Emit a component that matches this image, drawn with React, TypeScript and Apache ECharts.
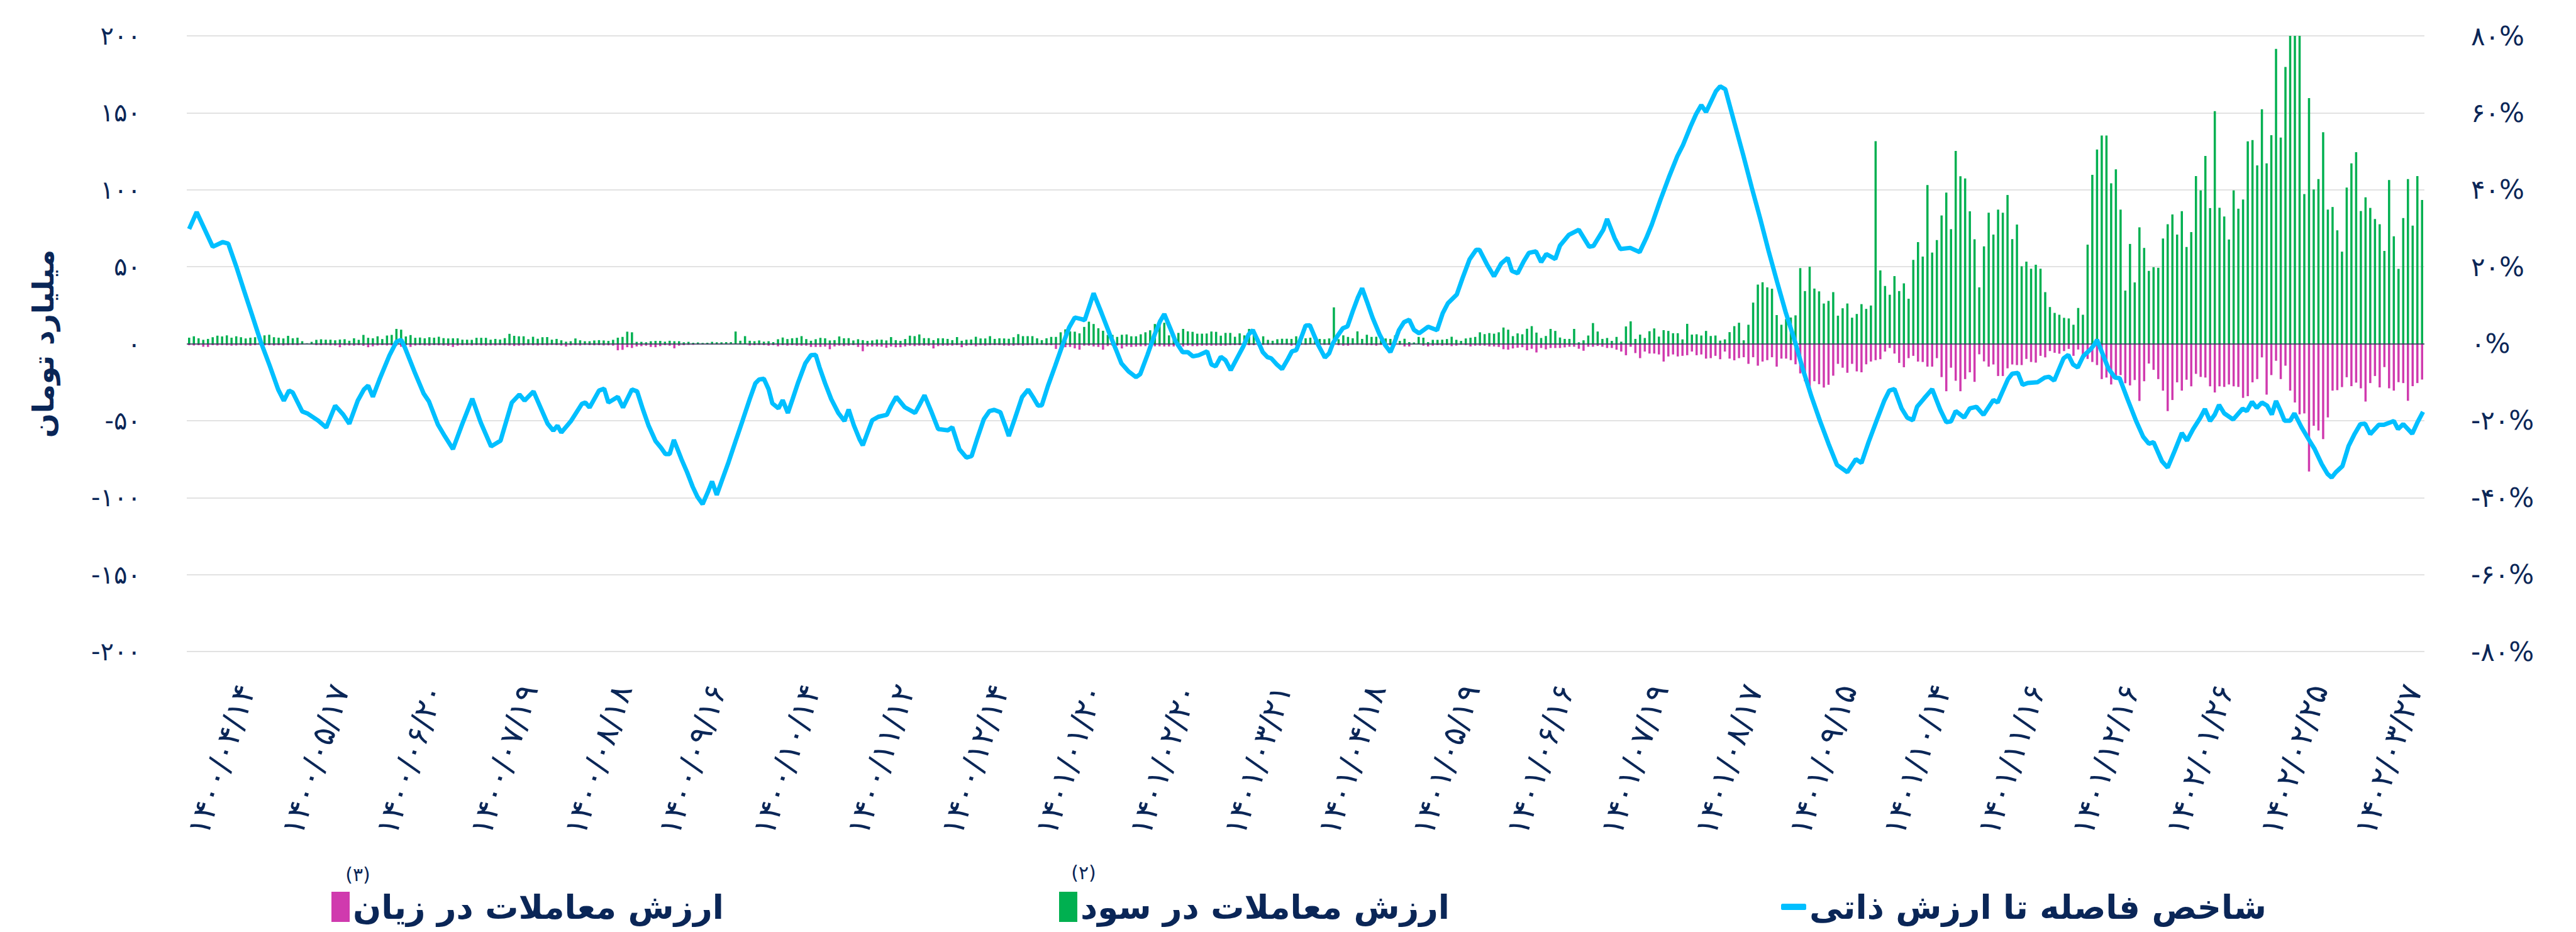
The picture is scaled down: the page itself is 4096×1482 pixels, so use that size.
import { useEffect, useRef } from 'react';
import * as echarts from 'echarts';

// x-axis tick labels (every 20th trading day, starting at day 12)
const dateLabels = [
  '۱۴۰۰/۰۴/۱۴', '۱۴۰۰/۰۵/۱۷', '۱۴۰۰/۰۶/۲۰', '۱۴۰۰/۰۷/۱۹', '۱۴۰۰/۰۸/۱۸', '۱۴۰۰/۰۹/۱۶',
  '۱۴۰۰/۱۰/۱۴', '۱۴۰۰/۱۱/۱۲', '۱۴۰۰/۱۲/۱۴', '۱۴۰۱/۰۱/۲۰', '۱۴۰۱/۰۲/۲۰', '۱۴۰۱/۰۳/۲۱',
  '۱۴۰۱/۰۴/۱۸', '۱۴۰۱/۰۵/۱۹', '۱۴۰۱/۰۶/۱۶', '۱۴۰۱/۰۷/۱۹', '۱۴۰۱/۰۸/۱۷', '۱۴۰۱/۰۹/۱۵',
  '۱۴۰۱/۱۰/۱۴', '۱۴۰۱/۱۱/۱۶', '۱۴۰۱/۱۲/۱۶', '۱۴۰۲/۰۱/۲۶', '۱۴۰۲/۰۲/۲۵', '۱۴۰۲/۰۳/۲۷',
];
const firstLabelIndex = 12;
const labelStep = 20;

// value of trades in profit (billion toman), one per trading day
const profitValues = [
  3.9, 4.8, 3.5, 2.5, 3.1, 4.2, 5.2, 4.7, 5.4, 3.9, 4.8, 4.2, 3.4, 3.9, 4.2, 4.5, 5.4, 5.8, 4.2, 3.9,
  3.4, 5.1, 3.5, 3.9, 1.6, 0.3, 1.2, 2.5, 2.9, 2.6, 2.6, 2.2, 2.7, 2.9, 1.9, 3.5, 2.5, 5.7, 3.8, 3.5,
  4.8, 3.0, 5.3, 5.7, 9.6, 9.1, 4.7, 5.6, 3.8, 4.0, 3.5, 4.2, 3.9, 4.5, 3.6, 3.4, 3.5, 3.5, 2.6, 2.6,
  2.5, 3.8, 3.8, 3.8, 2.6, 3.1, 2.7, 3.6, 6.4, 5.1, 4.8, 4.8, 2.9, 4.5, 3.2, 4.2, 4.3, 2.6, 3.1, 2.2,
  1.3, 1.6, 3.4, 2.2, 1.6, 1.6, 2.1, 2.3, 2.1, 1.8, 2.5, 3.9, 4.4, 7.8, 7.4,
  1.2, 1.2, 0.9, 1.6, 1.8, 1.8, 1.3, 1.9, 1.6, 1.6, 0.9, 1.2, 0.6, 0.8, 0.5, 0.6, 1.2, 0.9, 0.9, 1.0,
  1.0, 7.9, 1.9, 4.9, 1.9, 1.6, 2.1, 1.3, 1.6, 1.0, 2.9, 4.0, 3.0, 3.5, 3.8, 4.9, 3.0, 1.9, 2.9, 3.8,
  3.5, 2.1, 2.3, 4.7, 3.5, 3.6, 2.1, 2.9, 2.3, 1.8, 2.1, 2.7, 2.6, 2.1, 4.3, 2.3, 1.8, 3.0, 5.2, 4.9,
  6.0, 3.6, 3.6, 2.3, 3.5, 3.5, 3.1, 2.3, 4.3, 1.9, 2.6, 2.7, 4.5, 3.4, 3.4, 4.9, 3.1, 3.5, 3.4, 3.2,
  4.2, 6.2, 4.9, 4.9, 4.9, 3.5, 2.3, 3.5, 4.4, 4.4, 7.4, 9.3, 8.0, 7.8, 6.7,
  10.9, 14.3, 12.8, 10.0, 8.4, 5.7, 5.7, 4.4, 5.8, 6.0, 4.8, 4.8, 6.1, 7.4, 8.7, 12.8, 13.0, 13.6, 5.4, 3.5,
  7.0, 9.6, 8.0, 7.7, 6.5, 6.5, 6.6, 7.9, 7.7, 5.2, 7.0, 7.0, 4.5, 6.7, 5.4, 9.6, 9.3, 2.9, 4.8, 2.5,
  1.9, 2.9, 3.2, 3.2, 3.1, 4.8, 3.5, 3.5, 3.9, 1.8, 3.1, 2.9, 3.4, 23.6, 2.9, 5.4, 4.4, 3.5, 8.0, 3.1,
  5.8, 4.4, 4.5, 2.2, 3.4, 3.1, 5.4, 1.8, 3.2, 1.0, 0.8, 4.4, 3.9, 1.0, 2.5, 2.5, 2.6, 3.0, 4.5, 2.5,
  1.8, 3.4, 3.9, 4.4, 7.4, 6.2, 6.9, 6.5, 7.4, 10.5, 9.1, 4.9, 6.7, 6.1, 9.7,
  11.4, 7.2, 3.7, 5.0, 9.6, 8.3, 4.0, 3.1, 3.1, 9.6, 0.9, 2.2, 5.3, 13.4, 7.9, 3.1, 3.7, 1.8, 4.4, 1.3,
  11.2, 14.5, 3.1, 5.9, 3.7, 8.1, 9.9, 4.6, 8.8, 8.3, 6.8, 6.8, 2.8, 12.9, 5.9, 6.1, 5.3, 8.3, 5.0, 5.3,
  2.0, 2.8, 7.5, 11.4, 13.6, 2.2, 12.3, 26.7, 38.4, 39.9, 36.6, 35.7, 18.6, 12.3, 16.0, 17.0, 18.4, 49.1, 34.2, 50.0,
  35.8, 34.0, 26.1, 27.8, 33.5, 18.2, 23.0, 26.1, 16.9, 19.3, 25.7, 22.6, 24.8, 131.6, 47.6, 37.5, 31.8, 43.9, 34.2, 39.2,
  29.2, 54.4, 66.0, 56.6, 103.1, 59.2, 67.3, 83.3, 98.2, 74.4, 125.2, 108.8, 107.4, 86.0, 67.8,
  36.6, 63.2, 85.1, 70.9, 87.1, 85.1, 96.6, 67.9, 77.4, 50.3, 53.3, 48.7, 51.3, 48.7, 33.5, 23.8, 20.0, 18.8, 16.8, 16.4,
  12.3, 23.2, 18.8, 64.4, 109.7, 126.1, 135.2, 135.2, 104.2, 113.3, 87.1, 34.5, 64.8, 39.8, 75.6, 62.2, 47.3, 49.7, 49.3, 68.3,
  77.6, 84.0, 70.9, 86.1, 62.8, 72.5, 108.9, 99.6, 122.0, 88.1, 151.1, 88.3, 82.6, 67.7, 99.6, 87.7, 93.7, 131.5, 132.3, 115.8,
  152.3, 117.2, 135.4, 191.5, 133.9, 179.8, 215, 225, 210, 97.2, 159.6, 100.2, 106.9, 137.4, 87.1, 88.8, 73.6, 59.8, 101.4, 117.2,
  124.4, 86.2, 95.1, 88.2, 81.0, 77.6, 60.3, 106.3, 69.8, 48.6, 81.6, 106.9, 76.7, 108.9, 93.4,
];

// value of trades in loss (billion toman), one per trading day
const lossValues = [
  -1.0, -1.2, -1.0, -2.0, -2.1, -1.0, -1.2, -1.0, -1.1, -1.3, -1.2, -1.0, -1.2, -1.3, -1.0, -0.8, -1.1, -1.0, -1.2, -1.0,
  -1.2, -1.0, -0.9, -1.0, -0.5, -0.2, -0.4, -1.0, -1.0, -0.9, -1.1, -1.2, -2.3, -1.1, -1.2, -1.3, -1.0, -1.4, -2.3, -1.7,
  -1.2, -1.0, -1.2, -1.1, -1.3, -2.0, -1.1, -2.1, -1.2, -1.0, -1.2, -1.3, -1.0, -1.1, -1.2, -1.4, -2.1, -1.3, -1.1, -1.0,
  -1.2, -1.0, -1.1, -1.3, -1.1, -1.2, -1.0, -1.1, -1.2, -1.5, -1.3, -1.2, -1.0, -1.1, -1.2, -1.0, -1.1, -0.9, -1.0, -1.2,
  -1.8, -1.1, -1.0, -1.2, -0.9, -1.0, -1.1, -1.0, -1.2, -1.1, -1.3, -4.3, -4.0, -2.3, -2.8,
  -1.8, -1.6, -1.3, -2.1, -2.3, -1.6, -1.0, -1.3, -3.0, -1.3, -1.0, -0.8, -0.8, -0.6, -0.6, -0.5, -0.6, -0.5, -0.5, -0.4,
  -0.4, -0.3, -0.5, -0.4, -1.2, -1.0, -0.9, -1.0, -1.3, -1.0, -1.7, -1.0, -1.3, -1.0, -1.3, -1.3, -1.3, -2.1, -2.1, -2.1,
  -1.9, -3.6, -1.8, -1.3, -1.6, -1.3, -1.0, -2.1, -4.9, -1.8, -1.8, -1.8, -1.9, -2.6, -1.8, -2.3, -2.3, -1.8, -1.3, -1.6,
  -1.3, -1.3, -1.3, -3.1, -1.6, -1.3, -1.3, -1.3, -1.0, -2.3, -1.3, -1.0, -1.7, -1.0, -1.3, -1.0, -1.0, -1.0, -1.3, -1.3,
  -1.3, -1.0, -1.3, -1.0, -1.0, -0.8, -0.8, -1.0, -1.0, -3.4, -3.0, -2.3, -2.1, -3.0, -3.9,
  -1.3, -1.3, -1.8, -2.1, -3.9, -1.6, -1.3, -1.3, -3.1, -1.8, -2.1, -1.9, -1.7, -1.6, -1.5, -1.7, -1.7, -1.8, -1.8, -1.8,
  -1.3, -1.8, -1.3, -1.6, -1.6, -1.3, -1.3, -1.3, -1.3, -1.3, -1.3, -1.0, -1.0, -1.0, -1.0, -1.0, -1.0, -1.3, -0.8, -0.8,
  -0.8, -0.8, -0.8, -0.8, -1.3, -1.3, -0.8, -0.8, -0.5, -0.5, -1.0, -0.8, -0.8, -0.5, -1.0, -1.3, -1.3, -0.8, -0.8, -0.8,
  -1.0, -1.0, -1.3, -0.8, -1.3, -1.0, -1.0, -0.8, -1.8, -1.8, -0.3, -0.3, -1.3, -1.8, -1.3, -1.0, -1.3, -1.0, -1.6, -1.3,
  -0.8, -1.0, -1.8, -1.3, -1.3, -1.3, -1.8, -1.8, -2.1, -3.6, -3.9, -3.1, -2.6, -2.3, -4.3,
  -3.3, -5.7, -2.8, -3.7, -2.8, -2.8, -2.8, -2.4, -2.0, -2.0, -3.3, -4.6, -2.0, -2.0, -1.5, -2.0, -2.8, -2.8, -3.9, -5.1,
  -7.5, -2.0, -6.1, -9.4, -5.1, -6.4, -6.4, -7.0, -11.6, -8.3, -7.0, -8.3, -7.9, -7.5, -5.1, -7.5, -7.0, -9.7, -9.4, -7.9,
  -10.1, -5.1, -9.7, -10.8, -9.4, -8.8, -13.1, -8.8, -14.3, -11.6, -10.7, -8.8, -14.9, -9.7, -9.7, -10.7, -13.4, -19.3, -24.4, -31.8,
  -24.4, -26.3, -28.5, -26.7, -20.8, -13.1, -15.6, -18.9, -13.1, -18.0, -18.6, -13.4, -11.6, -10.7, -10.1, -5.1, -2.8, -6.4, -12.5, -15.3,
  -9.4, -7.9, -11.6, -11.9, -14.9, -14.9, -9.4, -21.7, -30.9, -15.6, -24.1, -30.9, -23.0, -18.6, -24.8,
  -6.9, -11.5, -14.9, -13.5, -21.0, -21.0, -16.0, -13.5, -13.9, -13.9, -9.9, -11.9, -12.3, -7.9, -8.9, -4.8, -5.9, -6.5, -4.8, -3.4,
  -7.9, -3.8, -9.9, -9.9, -11.9, -13.9, -23.0, -22.0, -26.5, -21.0, -20.4, -25.7, -27.1, -23.6, -37.2, -24.4, -12.9, -17.0, -23.0, -30.5,
  -43.8, -36.6, -25.1, -30.5, -23.4, -27.7, -19.6, -21.6, -22.0, -27.7, -31.7, -27.7, -28.1, -26.5, -27.7, -28.1, -35.2, -34.1, -25.1, -23.0,
  -8.9, -33.1, -20.4, -11.1, -23.0, -14.3, -30.5, -38.2, -45.9, -45.3, -83.0, -53.3, -56.4, -62.0, -47.9, -30.5, -30.2, -28.2, -21.8, -27.6,
  -25.3, -29.0, -37.6, -25.6, -21.0, -28.4, -15.2, -29.0, -30.5, -25.0, -25.6, -37.1, -27.6, -25.6, -23.3,
];

// distance-to-intrinsic-value index (%), read at its visible vertices: [trading day, percent]
const gapPoints: [number, number][] = [
  [0, 29.8], [1.6, 34.2], [5.0, 25.2], [7.1, 26.4], [8.3, 26.0], [10.1, 19.7], [11.6, 14.0], [13.4, 7.3], [15.2, 0.5],
  [17.1, -5.7], [18.9, -11.9], [20.1, -14.8], [21.2, -12.2], [22.0, -12.7], [24.0, -17.6], [25.2, -18.2], [27.4, -20.0],
  [29.1, -21.8], [31.0, -16.1], [32.7, -18.4], [34.0, -20.8], [35.8, -14.8], [37.1, -11.9], [38.0, -10.9], [39.0, -13.8],
  [40.4, -9.3], [42.5, -3.1], [44.0, 0.5], [45.0, 1.0], [45.8, -1.0], [48.0, -7.8], [49.8, -13.0], [50.9, -15.0],
  [52.8, -21.0], [54.3, -24.1], [56.0, -27.4], [58.0, -20.8], [60.1, -14.3], [61.9, -20.5], [64.1, -26.7], [66.1, -25.2],
  [68.5, -15.3], [70.1, -13.2], [71.2, -14.8], [73.1, -12.4], [74.6, -16.6], [76.1, -20.8], [77.3, -22.6], [78.2, -21.3],
  [79.0, -23.1], [81.0, -20.2], [83.4, -15.6], [84.1, -15.3], [85.0, -16.6], [87.0, -12.2], [88.1, -11.7], [89.0, -15.3],
  [91.0, -13.8], [92.1, -16.6], [94.0, -11.9],
  [95.1, -12.4], [96.3, -17.0], [97.5, -21.2], [99.0, -25.3], [100.2, -27.1], [101.1, -28.7], [102.0, -28.7], [102.9, -25.0],
  [104.5, -30.0], [105.7, -33.4], [106.9, -37.2], [107.9, -39.8], [109.0, -41.7], [110.1, -38.6], [111.0, -35.8],
  [112.0, -39.3], [113.2, -35.2], [114.5, -30.8], [116.0, -25.3], [117.5, -19.9], [119.0, -14.4], [120.2, -10.3],
  [121.0, -9.3], [122.0, -9.1], [123.0, -11.8], [123.8, -15.5], [125.1, -16.8], [126.0, -14.7], [127.1, -18.0],
  [128.1, -14.4], [129.3, -10.0], [130.8, -5.1], [132.0, -3.0], [133.0, -2.9], [133.8, -6.1], [135.0, -10.3],
  [136.3, -14.4], [137.8, -18.0], [139.1, -20.1], [140.0, -17.1], [141.1, -21.2], [142.3, -24.8], [143.0, -26.4],
  [143.8, -23.8], [145.0, -19.9], [146.3, -19.0], [148.1, -18.5], [149.0, -16.2], [150.1, -13.8], [151.9, -16.5],
  [154.1, -18.0], [155.0, -16.0], [156.1, -13.4], [157.5, -17.5], [159.0, -22.2], [161.1, -22.5], [162.0, -21.7],
  [163.5, -27.4], [165.0, -29.6], [166.1, -29.2], [167.2, -25.0], [168.7, -19.6], [169.9, -17.5], [170.9, -17.2],
  [172.2, -17.8], [173.2, -21.2], [174.0, -24.0], [175.3, -19.4], [176.8, -13.9], [178.1, -11.9], [179.3, -14.2],
  [180.2, -16.1], [181.0, -16.0], [182.3, -11.0], [183.8, -5.9], [185.3, -0.7], [186.8, 4.2], [188.0, 6.8], [189.4, 6.4],
  [190.1, 6.1], [192.0, 13.1], [193.7, 7.9], [195.5, 2.2], [196.7, -1.4], [197.9, -5.1], [199.4, -7.2], [201.0, -8.7],
  [201.9, -7.9], [203.4, -3.0], [204.9, 2.2], [206.1, 5.8], [207.0, 7.7], [208.2, 4.2], [209.4, 0.6], [210.9, -2.2],
  [212.0, -2.2], [213.1, -3.3], [214.3, -3.0], [216.1, -2.0], [217.0, -5.4], [217.9, -5.9], [219.0, -3.4], [220.0, -4.3],
  [221.1, -6.9], [222.6, -3.4], [223.7, -0.9], [224.9, 2.4], [225.8, 3.5], [226.7, 1.2], [227.9, -2.2], [228.9, -3.5],
  [229.7, -3.8], [230.9, -5.4], [232.0, -6.6], [233.1, -4.3], [234.1, -2.0], [235.0, -1.7], [236.1, 1.7], [237.0, 4.7],
  [237.9, 4.8], [238.8, 2.2], [239.7, -0.4], [241.1, -3.6], [242.0, -2.5], [242.8, 0.1], [243.7, 1.9], [244.9, 4.0],
  [245.9, 4.5], [247.0, 8.4], [248.1, 12.0], [249.0, 14.4], [250.0, 11.0], [251.2, 6.8], [252.7, 2.4], [253.9, -0.4],
  [255.0, -2.2], [255.8, 0.1], [256.8, 3.5], [257.9, 5.6], [259.0, 6.2], [260.0, 3.6], [261.1, 2.7], [263.0, 4.4],
  [264.9, 3.5], [266.1, 7.9], [267.2, 10.5], [269.1, 12.8], [270.3, 17.0], [271.8, 21.9], [273.2, 24.4], [273.9, 24.4],
  [275.5, 20.6], [277.0, 17.5], [278.5, 20.8], [279.9, 22.3], [280.8, 18.9], [282.0, 18.3], [283.3, 21.4], [284.4, 23.6],
  [285.9, 24.0], [287.0, 21.2], [288.1, 23.3], [290.0, 22.0], [291.0, 25.5], [292.9, 28.3], [295.0, 29.6], [297.2, 25.2],
  [298.1, 25.4], [300.2, 29.6], [301.0, 32.4], [302.6, 27.4], [303.8, 24.6], [305.9, 24.9], [307.9, 23.8], [309.3, 27.4],
  [310.5, 31.0], [312.3, 37.3], [314.1, 43.2], [315.9, 48.7], [317.1, 51.6], [318.7, 56.4], [319.9, 59.7], [321.0, 62.0],
  [322.0, 60.2], [324.1, 65.6], [325.0, 66.9], [326.1, 66.1], [328.0, 57.5], [329.9, 49.0], [331.7, 40.6], [333.5, 32.5],
  [335.3, 24.0], [337.1, 16.0], [338.9, 8.2], [340.8, 0.9], [342.6, -6.8], [344.4, -13.8], [346.2, -20.1], [348.0, -26.0],
  [349.8, -31.5], [352.0, -33.4], [353.8, -30.0], [355.0, -31.0], [356.5, -25.6], [358.3, -19.7], [359.8, -14.9],
  [360.9, -12.2], [362.0, -11.8], [363.5, -16.8], [364.7, -19.2], [365.9, -19.9], [366.8, -16.4], [368.3, -14.2],
  [370.0, -11.8], [371.7, -17.1], [373.0, -20.4], [374.0, -20.2], [375.0, -17.5], [376.8, -19.2], [378.0, -16.8],
  [379.4, -16.4], [380.9, -18.5], [383.0, -14.6], [383.9, -15.3], [386.1, -9.2], [387.0, -7.8], [388.2, -7.6],
  [389.2, -10.7], [390.3, -10.2], [392.4, -10.0], [393.9, -8.8], [394.8, -8.6], [395.9, -9.6], [397.9, -3.8],
  [398.9, -2.9], [399.9, -5.4], [400.9, -6.2], [402.1, -3.2], [403.6, -1.5], [404.4, -0.3], [405.0, 1.0], [406.1, -2.4],
  [407.4, -6.4], [408.8, -8.8], [409.8, -9.0], [411.5, -14.5], [413.3, -20.1], [414.8, -24.2], [416.0, -26.0],
  [417.0, -25.6], [418.8, -30.6], [420.0, -32.2], [421.5, -27.8], [423.0, -23.2], [424.1, -25.2], [425.4, -22.2],
  [426.9, -19.3], [427.9, -17.0], [429.0, -20.1], [430.0, -18.4], [430.9, -15.9], [432.0, -18.1], [433.9, -19.7],
  [435.9, -16.9], [436.8, -17.5], [437.9, -15.1], [438.9, -16.7], [440.0, -15.3], [441.1, -16.1], [442.1, -18.4],
  [443.0, -14.9], [443.9, -17.3], [444.8, -20.0], [446.0, -20.0], [446.9, -18.1], [448.4, -21.7], [450.0, -25.0],
  [451.2, -27.4], [452.7, -31.3], [453.9, -33.8], [454.8, -34.8], [455.7, -33.4], [457.1, -31.8], [458.4, -26.6],
  [459.7, -23.4], [460.9, -20.9], [461.9, -20.8], [463.0, -23.5], [464.8, -21.1], [465.9, -21.1], [468.0, -20.1],
  [468.9, -22.2], [470.0, -20.9], [471.9, -23.4], [473.0, -20.5], [474.2, -17.7],
];

const lossName = 'ارزش معاملات در زیان';
const profitName = 'ارزش معاملات در سود';
const gapName = 'شاخص فاصله تا ارزش ذاتی';
const leftAxisName = 'میلیارد تومان';
const lossNote = '(۳)';
const profitNote = '(۲)';

const NAVY = '#0a2657';
const FONT = "'DejaVu Sans', sans-serif";
const faDigits = '۰۱۲۳۴۵۶۷۸۹';
const toFa = (s: string) => s.replace(/[0-9]/g, (d) => faDigits[Number(d)]);

export default function App() {
  const ref = useRef<HTMLDivElement>(null);

  useEffect(() => {
    if (!ref.current) return;
    const chart = echarts.init(ref.current, null, { renderer: 'svg' });
    const dayCount = profitValues.length;
    const categories = profitValues.map((_, i) => {
      const k = (i - firstLabelIndex) / labelStep;
      return i >= firstLabelIndex && Number.isInteger(k) && k < dateLabels.length ? dateLabels[k] : 'd' + i;
    });
    const legendText = { fontSize: 53, fontWeight: 'bold', color: NAVY, fontFamily: FONT, lineHeight: 62 };

    chart.setOption({
      animation: false,
      backgroundColor: '#ffffff',
      textStyle: { fontFamily: FONT },
      grid: { left: 297, right: 241, top: 57, bottom: 446, containLabel: false },
      xAxis: [
        {
          type: 'category',
          data: categories,
          boundaryGap: true,
          axisLine: { show: false },
          axisTick: { show: false },
          splitLine: { show: false },
          axisLabel: {
            interval: (index: number) => index >= firstLabelIndex && (index - firstLabelIndex) % labelStep === 0,
            rotate: 72,
            margin: 54,
            fontSize: 50,
            color: NAVY,
            fontFamily: FONT,
          },
        },
        { type: 'value', min: -0.5, max: dayCount - 0.5, show: false },
      ],
      yAxis: [
        {
          type: 'value',
          min: -200,
          max: 200,
          interval: 50,
          name: leftAxisName,
          nameLocation: 'middle',
          nameRotate: 90,
          nameGap: 205,
          nameTextStyle: { fontSize: 46, fontWeight: 'bold', color: NAVY, fontFamily: FONT },
          axisLine: { show: false },
          axisTick: { show: false },
          axisLabel: {
            margin: 73,
            fontSize: 40,
            color: NAVY,
            fontFamily: FONT,
            padding: [0, 0, 20, 0],
            formatter: (v: number) => toFa(String(v)),
          },
          splitLine: { lineStyle: { color: '#d9d9d9', width: 1.5 } },
        },
        {
          type: 'value',
          min: -80,
          max: 80,
          interval: 20,
          position: 'right',
          axisLine: { show: false },
          axisTick: { show: false },
          splitLine: { show: false },
          axisLabel: {
            margin: 74,
            align: 'left',
            fontSize: 42,
            color: NAVY,
            fontFamily: FONT,
            padding: [0, 0, 20, 0],
            formatter: (v: number) => toFa(String(v)) + '%',
          },
        },
      ],
      legend: [
        {
          data: [lossName], left: 527, top: 1411, padding: 0, selectedMode: false,
          icon: 'rect', itemWidth: 29, itemHeight: 48, itemStyle: { borderWidth: 0 }, textStyle: legendText,
        },
        {
          data: [profitName], left: 1684, top: 1411, padding: 0, selectedMode: false,
          icon: 'rect', itemWidth: 29, itemHeight: 48, itemStyle: { borderWidth: 0 }, textStyle: legendText,
        },
        {
          data: [gapName], left: 2832, top: 1411, padding: 0, selectedMode: false,
          icon: 'roundRect', itemWidth: 40, itemHeight: 10, itemStyle: { borderWidth: 0 }, textStyle: legendText,
        },
      ],
      graphic: [
        {
          type: 'text', x: 569, y: 1390, silent: true,
          style: { text: lossNote, fontSize: 30, fill: NAVY, fontFamily: FONT, textAlign: 'center', textVerticalAlign: 'middle' },
        },
        {
          type: 'text', x: 1723, y: 1387, silent: true,
          style: { text: profitNote, fontSize: 30, fill: NAVY, fontFamily: FONT, textAlign: 'center', textVerticalAlign: 'middle' },
        },
      ],
      series: [
        {
          name: lossName,
          type: 'bar',
          data: lossValues,
          barWidth: 3.5,
          barGap: '-100%',
          clip: true,
          itemStyle: { color: '#d03aae' },
        },
        {
          name: profitName,
          type: 'bar',
          data: profitValues,
          barWidth: 3.5,
          barGap: '-100%',
          clip: true,
          itemStyle: { color: '#00b050' },
          markLine: {
            silent: true,
            symbol: 'none',
            label: { show: false },
            lineStyle: { color: '#2a3550', width: 1.5, type: 'solid' },
            data: [{ yAxis: 0 }],
          },
        },
        {
          name: gapName,
          type: 'line',
          xAxisIndex: 1,
          yAxisIndex: 1,
          data: gapPoints,
          showSymbol: false,
          symbol: 'none',
          z: 5,
          lineStyle: { color: '#00bfff', width: 7 },
          itemStyle: { color: '#00bfff' },
        },
      ],
    });
    return () => chart.dispose();
  }, []);

  return (
    <div
      ref={ref}
      style={{ position: 'absolute', left: 0, top: 0, width: 4096, height: 1482, background: '#ffffff' }}
    />
  );
}
